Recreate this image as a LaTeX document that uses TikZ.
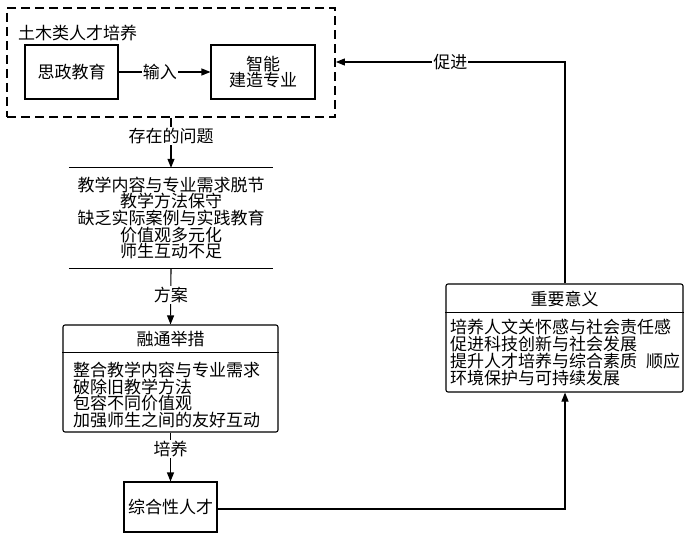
\documentclass[tikz,border=0pt]{standalone}
\usepackage{fontspec}
\newfontfamily\cjk{Noto Sans CJK SC}
\usetikzlibrary{arrows.meta,calc}
\begin{document}
\begin{tikzpicture}[x=1pt,y=-1pt,
  every node/.style={font=\cjk\fontsize{17}{16.7}\selectfont, inner sep=0pt},
  box/.style={draw, line width=1.1pt},
  rbox/.style={draw, line width=1.1pt, rounded corners=2pt},
  lbl/.style={fill=white, inner xsep=1pt, inner ysep=1pt},
  conn/.style={line width=1.1pt},
  arr/.style={conn, -{Triangle[length=9pt,width=7pt]}}
]
\useasboundingbox (0,0) rectangle (687,537);
% outer dashed box
\node[draw, line width=1.8pt, dash pattern=on 9pt off 5pt, minimum width=328pt, minimum height=109pt] (outer) at (171,62.5) {};
\node[anchor=west] (title) at (18,33) {土木类人才培养};
\node[box, minimum width=93pt, minimum height=54pt] (sz) at (71.5,72) {思政教育};
\node[box, minimum width=104pt, minimum height=54pt, align=center] (zn) at (263,72) {智能\\建造专业};
\draw[arr] (sz.east) -- (zn.west) node[lbl, pos=0.45] (l1) {输入};
% problems
\node[minimum width=204pt, minimum height=100pt, align=center] (prob) at (171,218) {教学内容与专业需求脱节\\教学方法保守\\缺乏实际案例与实践教育\\价值观多元化\\师生互动不足};
\draw[conn] (prob.north west) -- (prob.north east);
\draw[conn] (prob.south west) -- (prob.south east);
\draw[arr] (outer.south) -- (prob.north) node[lbl, pos=0.36] (l2) {存在的问题};
% measures
\node[rbox, minimum width=215pt, minimum height=107pt] (meas) at (170.5,378.5) {};
\draw[conn] ($(meas.north west)+(0,28)$) coordinate (mh1) -- ($(meas.north east)+(0,28)$) coordinate (mh2);
\node (meast) at (170.5,339) {融通举措};
\node[anchor=west, align=left] (measb) at (73,395) {整合教学内容与专业需求\\破除旧教学方法\\包容不同价值观\\加强师生之间的友好互动};
\draw[arr] (prob.south) -- (meas.north) node[lbl, pos=0.48] (l3) {方案};
% talent
\node[box, minimum width=93pt, minimum height=50pt] (zh) at (170.5,507) {综合性人才};
\draw[arr] (meas.south) -- (zh.north) node[lbl, pos=0.34] (l4) {培养};
% significance
\node[rbox, minimum width=237pt, minimum height=108pt] (sig) at (564.5,338) {};
\draw[conn] ($(sig.north west)+(0,29)$) coordinate (sh1) -- ($(sig.north east)+(0,29)$) coordinate (sh2);
\node (sigt) at (564.5,299) {重要意义};
\node[anchor=west, align=left] (sigb) at (450,352.5) {培养人文关怀感与社会责任感\\促进科技创新与社会发展\\提升人才培养与综合素质\hspace{9pt}顺应\\环境保护与可持续发展};
\coordinate (c1) at (565,509);
\draw[arr] (zh.east |- c1) -- (c1) -- (sig.south -| c1);
\coordinate (c2) at (565,62);
\draw[arr] (sig.north -| c2) -- (c2) -- (outer.east |- c2) node[lbl, pos=0.5] (l5) {促进};
\end{tikzpicture}
\end{document}
